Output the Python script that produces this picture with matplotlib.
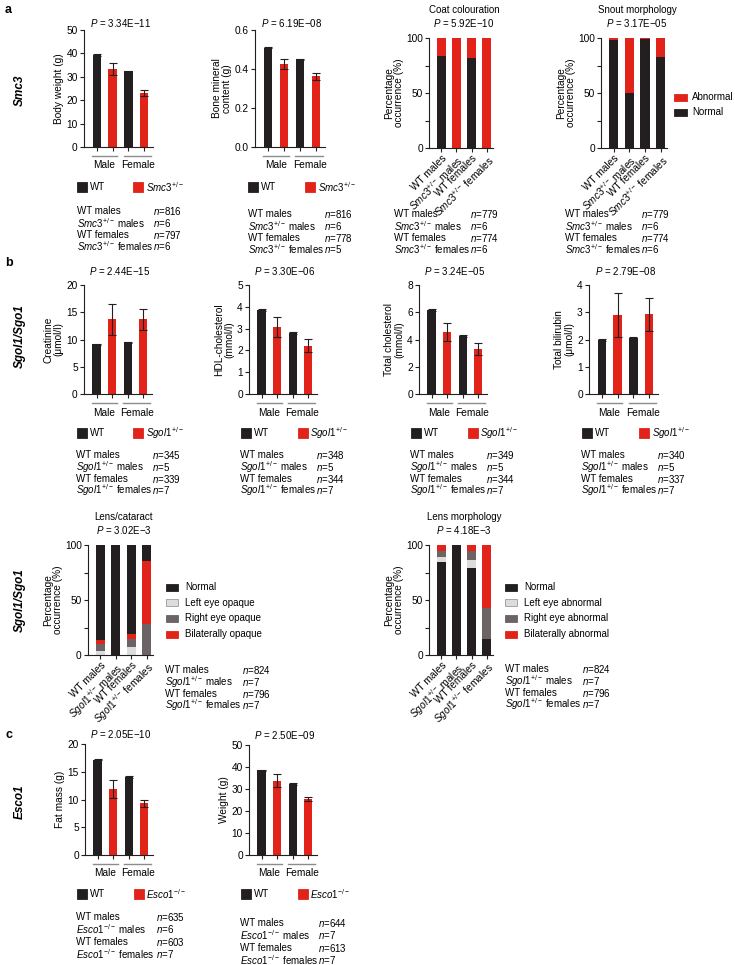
import matplotlib
matplotlib.use('Agg')
import matplotlib.pyplot as plt
import numpy as np
from matplotlib.patches import Rectangle

plt.rcParams['font.family'] = ['Liberation Sans', 'DejaVu Sans']
plt.rcParams['mathtext.fontset'] = 'custom'
plt.rcParams['mathtext.rm'] = 'Liberation Sans'
plt.rcParams['mathtext.it'] = 'Liberation Sans:italic'
plt.rcParams['mathtext.bf'] = 'Liberation Sans:bold'
plt.rcParams['font.size'] = 7

# ---- data ----
# panel a, Smc3
smc3_body_weight = [39.3, 33.3, 32.3, 23.0]
smc3_body_weight_err = [0.3, 2.7, 0.2, 1.4]
smc3_bone_mineral = [0.510, 0.425, 0.450, 0.362]
smc3_bone_mineral_err = [0.003, 0.025, 0.003, 0.018]
coat_normal = [84, 0, 82, 0]
coat_abnormal = [16, 100, 18, 100]
snout_normal = [98, 50, 99, 83]
snout_abnormal = [2, 50, 1, 17]

# panel b, Sgol1
creatinine = [9.1, 13.7, 9.5, 13.7]
creatinine_err = [0.1, 2.9, 0.1, 1.9]
hdl_chol = [3.87, 3.08, 2.80, 2.22]
hdl_chol_err = [0.04, 0.47, 0.03, 0.30]
total_chol = [6.18, 4.55, 4.25, 3.30]
total_chol_err = [0.07, 0.65, 0.06, 0.42]
bilirubin = [1.99, 2.90, 2.07, 2.92]
bilirubin_err = [0.03, 0.80, 0.03, 0.62]

cataract_left = [4, 0, 7, 0]
cataract_right = [6, 0, 8, 28.6]
cataract_bilateral = [3.5, 0, 4, 57.1]
cataract_normal = [86.5, 100, 81, 14.3]

morph_normal = [85, 100, 79, 14.3]
morph_left = [4, 0, 7, 0]
morph_right = [6, 0, 9, 28.6]
morph_bilateral = [5, 0, 5, 57.1]

# panel c, Esco1
fat_mass = [17.2, 11.9, 14.1, 9.3]
fat_mass_err = [0.15, 1.7, 0.2, 0.7]
esco1_weight = [38.5, 33.8, 32.3, 25.5]
esco1_weight_err = [0.2, 2.9, 0.3, 0.8]

# sample sizes
n_body_weight = [816, 6, 797, 6]
n_bone_mineral = [816, 6, 778, 5]
n_coat = [779, 6, 774, 6]
n_snout = [779, 6, 774, 6]
n_creatinine = [345, 5, 339, 7]
n_hdl = [348, 5, 344, 7]
n_total_chol = [349, 5, 344, 7]
n_bilirubin = [340, 5, 337, 7]
n_cataract = [824, 7, 796, 7]
n_morph = [824, 7, 796, 7]
n_fat = [635, 6, 603, 7]
n_weight = [644, 7, 613, 7]

black = '#231f20'
red = '#e2231a'
light = '#dcdcdc'
dark = '#6b6364'

W, H = 735, 965
fig = plt.figure(figsize=(W / 100, H / 100), dpi=100)


def fx(x):
    return x / W


def fy(y):
    return 1 - y / H


def add_ax(x0, y0, x1, y1):
    return fig.add_axes([fx(x0), fy(y1), (x1 - x0) / W, (y1 - y0) / H])


def txt(x, y, s, **kw):
    kw.setdefault('va', 'center')
    fig.text(fx(x), fy(y), s, **kw)


def square(x, y, w, h, color, edge=None):
    fig.add_artist(Rectangle((fx(x), fy(y) - h / 2 / H), w / W, h / H, transform=fig.transFigure,
                             facecolor=color, edgecolor=edge or color, lw=0.6))


def style(ax):
    for s in ['top', 'right']:
        ax.spines[s].set_visible(False)
    for s in ['left', 'bottom']:
        ax.spines[s].set_color(black)
        ax.spines[s].set_linewidth(0.8)
    ax.tick_params(direction='out', length=3, width=0.8, color=black, labelsize=7.3, pad=1.5)


def gene(g, sup):
    return r'$\mathit{%s}^{%s}$' % (g, sup)


def bar_panel(rect, means, errs, ylim, yticks, ylabel, ptext, p_y):
    ax = add_ax(*rect)
    xs = np.arange(4)
    ax.bar(xs, means, width=0.52, color=[black, red, black, red])
    ax.errorbar(xs, means, yerr=errs, fmt='none', ecolor=black, elinewidth=0.8, capsize=2.8, capthick=0.8)
    ax.set_xlim(-0.8, 3.55)
    ax.set_ylim(*ylim)
    ax.set_yticks(yticks)
    ax.set_xticks(xs)
    ax.set_xticklabels([])
    style(ax)
    ax.set_ylabel(ylabel, fontsize=7.3, labelpad=2, linespacing=1.05)
    h = rect[3] - rect[1]
    tr = ax.get_xaxis_transform()
    yl = -8.5 / h
    ax.plot([-0.3, 1.3], [yl, yl], transform=tr, clip_on=False, color='#8c8c8c', lw=1)
    ax.plot([1.7, 3.4], [yl, yl], transform=tr, clip_on=False, color='#8c8c8c', lw=1)
    ax.text(0.5, -18.5 / h, 'Male', transform=tr, ha='center', va='center', fontsize=7.3)
    ax.text(2.6, -18.5 / h, 'Female', transform=tr, ha='center', va='center', fontsize=7.3)
    txt((rect[0] + rect[2]) / 2 + 2, p_y, r'$\mathit{P}$ = ' + ptext, ha='center')
    return ax


def stack_panel(rect, segments, xlabels, title, ptext):
    ax = add_ax(*rect)
    xs = np.arange(4)
    bottom = np.zeros(4)
    for vals, c in segments:
        ax.bar(xs, vals, bottom=bottom, width=0.58, color=c, lw=0)
        bottom = bottom + np.array(vals)
    ax.set_xlim(-0.8, 3.4)
    ax.set_ylim(0, 100)
    ax.set_yticks([0, 25, 50, 75, 100])
    ax.set_yticklabels(['0', '', '50', '', '100'])
    ax.set_xticks(xs)
    ax.set_xticklabels(xlabels, rotation=45, ha='right', rotation_mode='anchor', fontsize=6.1)
    style(ax)
    ax.tick_params(axis='x', pad=1)
    ax.set_ylabel('Percentage\noccurrence (%)', fontsize=7.3, labelpad=1, linespacing=1.05)
    xc = (rect[0] + rect[2]) / 2 + 3
    txt(xc, rect[1] - 28, title, ha='center')
    txt(xc, rect[1] - 15, r'$\mathit{P}$ = ' + ptext, ha='center')
    return ax


def n_table(x, y, g, sup, ns, nx_off=76, dy=11.8):
    labels = ['WT males', gene(g, sup) + ' males', 'WT females', gene(g, sup) + ' females']
    for i, (lab, n) in enumerate(zip(labels, ns)):
        txt(x, y + i * dy, lab)
        txt(x + nx_off, y + i * dy, r'$\mathit{n}$=%d' % n)


def bar_legend(x1, x2, y, g, sup):
    square(x1, y, 10, 10, black)
    txt(x1 + 12.5, y, 'WT')
    square(x2, y, 10, 10, red)
    txt(x2 + 12.5, y, gene(g, sup))


def stack_labels(g, sup):
    return ['WT males', gene(g, sup) + ' males', 'WT females', gene(g, sup) + ' females']


# ---- panel a ----
txt(5, 10, 'a', fontweight='bold', fontsize=9)
txt(20, 90, 'Smc3', rotation=90, ha='center', fontweight='bold', fontstyle='italic', fontsize=8.5)

bar_panel((84, 30, 153, 147), smc3_body_weight, smc3_body_weight_err, (0, 50), [0, 10, 20, 30, 40, 50],
          'Body weight (g)', '3.34E\u221211', 23)
bar_panel((255, 30, 325, 147), smc3_bone_mineral, smc3_bone_mineral_err, (0, 0.6), [0.0, 0.2, 0.4, 0.6],
          'Bone mineral\ncontent (g)', '6.19E\u221208', 23)
stack_panel((429, 38, 493, 148), [(coat_normal, black), (coat_abnormal, red)],
            stack_labels('Smc3', '+/-'), 'Coat colouration', '5.92E\u221210')
stack_panel((601, 38, 667, 148), [(snout_normal, black), (snout_abnormal, red)],
            stack_labels('Smc3', '+/-'), 'Snout morphology', '3.17E\u221205')
square(674, 97, 13, 7, red)
txt(692, 97, 'Abnormal')
square(674, 112, 13, 7, black)
txt(692, 112, 'Normal')

bar_legend(77, 133, 187, 'Smc3', '+/-')
bar_legend(248, 305, 187, 'Smc3', '+/-')
n_table(77, 211, 'Smc3', '+/-', n_body_weight)
n_table(248, 214, 'Smc3', '+/-', n_bone_mineral)
n_table(394, 214, 'Smc3', '+/-', n_coat)
n_table(565, 214, 'Smc3', '+/-', n_snout)

# ---- panel b ----
txt(5, 263, 'b', fontweight='bold', fontsize=9)
txt(20, 336, 'Sgol1/Sgo1', rotation=90, ha='center', fontweight='bold', fontstyle='italic', fontsize=8.5)

bar_panel((84, 285, 152, 394), creatinine, creatinine_err, (0, 20), [0, 5, 10, 15, 20],
          'Creatinine\n(\u03bcmol/l)', '2.44E\u221215', 271)
bar_panel((249, 285, 317, 394), hdl_chol, hdl_chol_err, (0, 5), [0, 1, 2, 3, 4, 5],
          'HDL-cholesterol\n(mmol/l)', '3.30E\u221206', 271)
bar_panel((419, 285, 487, 394), total_chol, total_chol_err, (0, 8), [0, 2, 4, 6, 8],
          'Total cholesterol\n(mmol/l)', '3.24E\u221205', 271)
bar_panel((589, 285, 658, 394), bilirubin, bilirubin_err, (0, 4), [0, 1, 2, 3, 4],
          'Total bilirubin\n(\u03bcmol/l)', '2.79E\u221208', 271)

bar_legend(77, 133, 433, 'Sgol1', '+/-')
bar_legend(241, 298, 433, 'Sgol1', '+/-')
bar_legend(411, 468, 433, 'Sgol1', '+/-')
bar_legend(582, 639, 433, 'Sgol1', '+/-')
n_table(76, 455, 'Sgol1', '+/-', n_creatinine)
n_table(240, 455, 'Sgol1', '+/-', n_hdl)
n_table(410, 455, 'Sgol1', '+/-', n_total_chol)
n_table(581, 455, 'Sgol1', '+/-', n_bilirubin)

txt(20, 600, 'Sgol1/Sgo1', rotation=90, ha='center', fontweight='bold', fontstyle='italic', fontsize=8.5)
stack_panel((88, 545, 153, 655),
            [(cataract_left, light), (cataract_right, dark), (cataract_bilateral, red), (cataract_normal, black)],
            stack_labels('Sgol1', '+/-'), 'Lens/cataract', '3.02E\u22123')
stack_panel((429, 545, 493, 655),
            [(morph_normal, black), (morph_left, light), (morph_right, dark), (morph_bilateral, red)],
            stack_labels('Sgol1', '+/-'), 'Lens morphology', '4.18E\u22123')

for i, (lab, c) in enumerate([('Normal', black), ('Left eye opaque', light),
                              ('Right eye opaque', dark), ('Bilaterally opaque', red)]):
    square(166, 587 + i * 15.7, 12, 7, c, edge='#9a9a9a' if c == light else None)
    txt(185, 587 + i * 15.7, lab)
for i, (lab, c) in enumerate([('Normal', black), ('Left eye abnormal', light),
                              ('Right eye abnormal', dark), ('Bilaterally abnormal', red)]):
    square(505, 587 + i * 15.7, 12, 7, c, edge='#9a9a9a' if c == light else None)
    txt(524, 587 + i * 15.7, lab)

n_table(165, 670, 'Sgol1', '+/-', n_cataract, nx_off=77)
n_table(505, 669, 'Sgol1', '+/-', n_morph, nx_off=77)

# ---- panel c ----
txt(5, 735, 'c', fontweight='bold', fontsize=9)
txt(20, 802, 'Esco1', rotation=90, ha='center', fontweight='bold', fontstyle='italic', fontsize=8.5)

bar_panel((85, 744, 153, 855), fat_mass, fat_mass_err, (0, 20), [0, 5, 10, 15, 20],
          'Fat mass (g)', '2.05E\u221210', 734)
bar_panel((249, 745, 317, 855), esco1_weight, esco1_weight_err, (0, 50), [0, 10, 20, 30, 40, 50],
          'Weight (g)', '2.50E\u221209', 735)

bar_legend(77, 134, 894, 'Esco1', '-/-')
bar_legend(241, 298, 894, 'Esco1', '-/-')
n_table(76, 917, 'Esco1', '-/-', n_fat, nx_off=80, dy=12.3)
n_table(240, 923, 'Esco1', '-/-', n_weight, nx_off=78, dy=12.3)

fig.savefig('out.png', dpi=100, facecolor='white')
